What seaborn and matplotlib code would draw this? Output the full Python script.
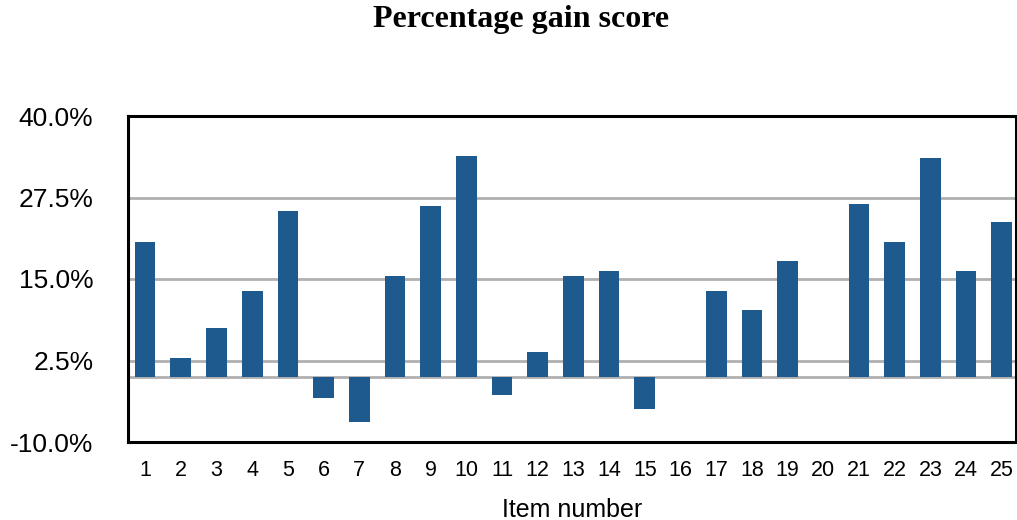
import pandas as pd
import matplotlib.pyplot as plt
import seaborn as sns
from matplotlib.ticker import FuncFormatter

items = [str(i) for i in range(1, 26)]
gain = [20.6, 2.9, 7.5, 13.1, 25.5, -3.2, -6.9, 15.4, 26.2, 33.8,
        -2.8, 3.8, 15.4, 16.2, -4.9, 0.0, 13.1, 10.2, 17.8, 0.0,
        26.5, 20.6, 33.5, 16.2, 23.8]
yticks = [-10.0, 2.5, 15.0, 27.5, 40.0]

df = pd.DataFrame({'item': items, 'gain': gain})

sns.set_style('white')
plt.rcParams['font.family'] = ['Liberation Sans', 'DejaVu Sans']
plt.rcParams['text.color'] = 'black'

fig = plt.figure(figsize=(10.17, 5.2), dpi=100)
ax = fig.add_axes([128 / 1017, 78 / 520, 888 / 1017, 326 / 520])

# gridlines first so bars sit above them
for y in [2.5, 15.0, 27.5, 0.0]:
    ax.axhline(y, color='#b0b0b0', lw=2, zorder=0)

sns.barplot(data=df, x='item', y='gain', color='#1f5a8f', width=0.58,
            linewidth=0, saturation=1, ax=ax, zorder=2)

ax.set_ylim(-10, 40)
ax.set_xlim(-0.48, 24.4)
ax.set_yticks(yticks)
ax.yaxis.set_major_formatter(FuncFormatter(lambda v, p: f'{v:.1f}%'))
ax.tick_params(axis='x', labelsize=15.5, length=0, colors='black', pad=13)
ax.tick_params(axis='y', labelsize=19, length=0, colors='black', pad=25)
ax.set_xlabel('Item number', fontsize=18, labelpad=12, color='black')
ax.set_ylabel('')
for s in ax.spines.values():
    s.set_color('black')
    s.set_linewidth(2.2)

fig.suptitle('Percentage gain score', x=0.512, y=0.99, fontsize=23, fontweight='bold',
             color='black', family=['Liberation Serif', 'DejaVu Serif'])

plt.savefig('out.png', dpi=100)
